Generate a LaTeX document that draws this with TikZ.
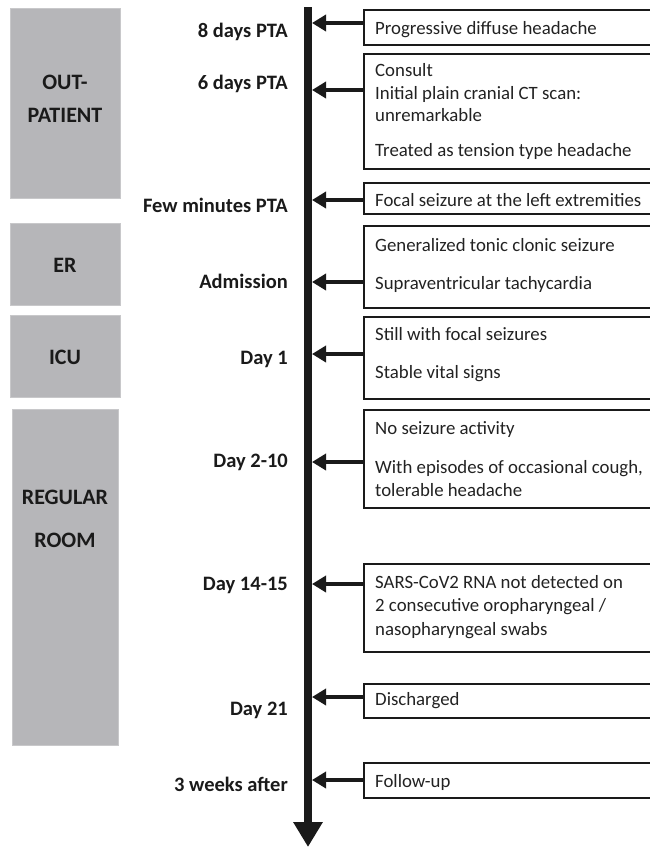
\documentclass[tikz,border=0pt]{standalone}
\usepackage{fontspec}
\setmainfont{Carlito}
\usetikzlibrary{arrows.meta}
\definecolor{roomgray}{RGB}{182,182,185}
\definecolor{roomedge}{RGB}{200,200,202}
\definecolor{ink}{RGB}{26,26,26}
\definecolor{boxtext}{RGB}{34,34,34}
\begin{document}
\begin{tikzpicture}[x=1pt,y=-1pt,
  room/.style={fill=roomgray,draw=roomedge,line width=0.8pt,anchor=north west,inner sep=0pt},
  roomlabel/.style={anchor=base,font=\fontsize{22}{24}\selectfont\bfseries,text=ink,inner sep=0pt},
  timelabel/.style={anchor=base east,font=\fontsize{20.5}{22}\selectfont\bfseries,text=ink,inner sep=0pt},
  evbox/.style={draw=ink,line width=1.5pt,anchor=north west,minimum width=320pt,inner sep=0pt},
  evtext/.style={anchor=base west,font=\fontsize{18.8}{22}\selectfont,text=boxtext,inner sep=0pt},
  harrow/.style={draw=ink,line width=4pt,-{Triangle[length=14pt,width=16pt]}},
  axisline/.style={draw=ink,line width=8pt,-{Triangle[length=25pt,width=28pt]}}
]
\useasboundingbox (0,0) rectangle (650,847);

% left grey room boxes
\node[room,minimum width=110pt,minimum height=190pt] (r1) at (10,8) {};
\node[room,minimum width=110pt,minimum height=82pt] (r2) at (10,223) {};
\node[room,minimum width=110pt,minimum height=82pt] (r3) at (10,315) {};
\node[room,minimum width=106pt,minimum height=336pt] (r4) at (12,409) {};
\node[roomlabel] (r1a) at (65,89) {OUT-};
\node[roomlabel] (r1b) at (65,122) {PATIENT};
\node[roomlabel] (r2a) at (65,272) {ER};
\node[roomlabel] (r3a) at (65,364) {ICU};
\node[roomlabel] (r4a) at (65,504) {REGULAR};
\node[roomlabel] (r4b) at (65,547) {ROOM};

% time axis
\coordinate (axtop) at (308,7);
\coordinate (axbot) at (308,847);
\draw[axisline] (axtop) -- (axbot);

% time labels
\node[timelabel] (l1) at (288,37) {8 days PTA};
\node[timelabel] (l2) at (288,89) {6 days PTA};
\node[timelabel] (l3) at (288,212) {Few minutes PTA};
\node[timelabel] (l4) at (288,288) {Admission};
\node[timelabel] (l5) at (288,364) {Day 1};
\node[timelabel] (l6) at (288,467) {Day 2-10};
\node[timelabel] (l7) at (288,590) {Day 14-15};
\node[timelabel] (l8) at (288,715) {Day 21};
\node[timelabel] (l9) at (288,791) {3 weeks after};

% event boxes
\node[evbox,minimum height=35pt] (b1) at (363,9) {};
\node[evbox,minimum height=115pt] (b2) at (363,53) {};
\node[evbox,minimum height=31pt] (b3) at (363,182) {};
\node[evbox,minimum height=82pt] (b4) at (363,225) {};
\node[evbox,minimum height=82pt] (b5) at (363,316) {};
\node[evbox,minimum height=98pt] (b6) at (363,409) {};
\node[evbox,minimum height=88pt] (b7) at (363,563) {};
\node[evbox,minimum height=34pt] (b8) at (363,683) {};
\node[evbox,minimum height=35pt] (b9) at (363,762) {};

% event texts
\node[evtext] (t1a) at (375,34) {Progressive diffuse headache};
\node[evtext] (t2a) at (375,76) {Consult};
\node[evtext] (t2b) at (375,99) {Initial plain cranial CT scan:};
\node[evtext] (t2c) at (375,121) {unremarkable};
\node[evtext] (t2d) at (375,156) {Treated as tension type headache};
\node[evtext] (t3a) at (375,206) {Focal seizure at the left extremities};
\node[evtext] (t4a) at (375,251) {Generalized tonic clonic seizure};
\node[evtext] (t4b) at (375,289) {Supraventricular tachycardia};
\node[evtext] (t5a) at (375,340) {Still with focal seizures};
\node[evtext] (t5b) at (375,378) {Stable vital signs};
\node[evtext] (t6a) at (375,434) {No seizure activity};
\node[evtext] (t6b) at (375,473) {With episodes of occasional cough,};
\node[evtext] (t6c) at (375,496) {tolerable headache};
\node[evtext] (t7a) at (375,588) {SARS-CoV2 RNA not detected on};
\node[evtext] (t7b) at (375,611) {2 consecutive oropharyngeal /};
\node[evtext] (t7c) at (375,635) {nasopharyngeal swabs};
\node[evtext] (t8a) at (375,705) {Discharged};
\node[evtext] (t9a) at (375,787) {Follow-up};

% arrows from events to axis
\coordinate (a1) at (312,23);
\coordinate (a2) at (312,90);
\coordinate (a3) at (312,200);
\coordinate (a4) at (312,282);
\coordinate (a5) at (312,354);
\coordinate (a6) at (312,462);
\coordinate (a7) at (312,584);
\coordinate (a8) at (312,697);
\coordinate (a9) at (312,780);
\draw[harrow] (b1.west |- a1) -- (a1);
\draw[harrow] (b2.west |- a2) -- (a2);
\draw[harrow] (b3.west |- a3) -- (a3);
\draw[harrow] (b4.west |- a4) -- (a4);
\draw[harrow] (b5.west |- a5) -- (a5);
\draw[harrow] (b6.west |- a6) -- (a6);
\draw[harrow] (b7.west |- a7) -- (a7);
\draw[harrow] (b8.west |- a8) -- (a8);
\draw[harrow] (b9.west |- a9) -- (a9);
\end{tikzpicture}
\end{document}
